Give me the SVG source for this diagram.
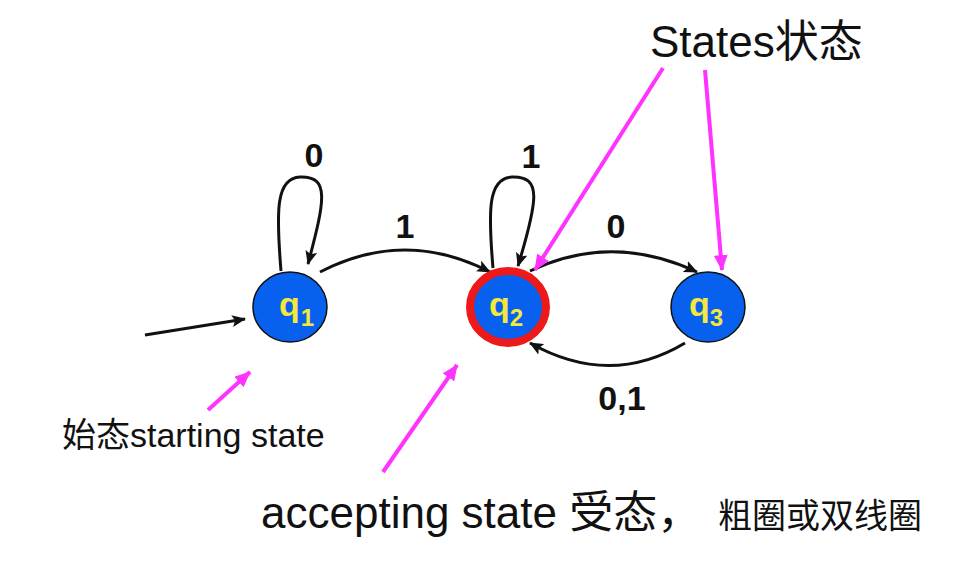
<svg xmlns="http://www.w3.org/2000/svg" width="966" height="565" viewBox="0 0 966 565">
<style>
.edge{fill:none;stroke:#111;stroke-width:3}
.pink{fill:none;stroke:#ff33ff;stroke-width:4}
.node{fill:#0860ee;stroke:#111;stroke-width:1.5}
.acc{fill:#0860ee;stroke:#ee1a1a;stroke-width:8}
.ql{font-family:"Liberation Sans",Arial,sans-serif;font-weight:bold;font-size:34px;fill:#f5e83c}
.sub{font-size:24px}
.lbl{font-family:"Liberation Sans",Arial,sans-serif;font-weight:bold;font-size:34px;fill:#111;text-anchor:middle}
.note{font-family:"Liberation Sans","Noto Sans CJK SC",sans-serif;fill:#111}
</style>
<defs>
<marker id="ah" markerWidth="14" markerHeight="12" refX="13" refY="6" orient="auto" markerUnits="userSpaceOnUse">
<path d="M0,0 L14,6 L0,12 L3,6 Z" fill="#111"/>
</marker>
<marker id="ph" markerWidth="16" markerHeight="14" refX="15" refY="7" orient="auto" markerUnits="userSpaceOnUse">
<path d="M0,0 L16,7 L0,14 Z" fill="#ff33ff"/>
</marker>
</defs>
<rect width="966" height="565" fill="#fff"/>
<g id="connectors">
<path class="edge" d="M145,335 L245,319" marker-end="url(#ah)"/>
<path class="edge" d="M281,271 C276,210 276,178 300,177 C330,176 325,200 308,264" marker-end="url(#ah)"/>
<path class="edge" d="M493,268 C488,210 488,178 512,177 C542,176 538,200 518,266" marker-end="url(#ah)"/>
<path class="edge" d="M320,272 Q405,228 490,272" marker-end="url(#ah)"/>
<path class="edge" d="M530,271 Q612,232 697,272" marker-end="url(#ah)"/>
<path class="edge" d="M685,343 Q610,388 530,343" marker-end="url(#ah)"/>
<text class="lbl" x="314" y="167">0</text>
<text class="lbl" x="531" y="168">1</text>
<text class="lbl" x="405" y="238">1</text>
<text class="lbl" x="616" y="238">0</text>
<text class="lbl" x="622" y="410">0,1</text>
</g>
<g id="q1">
<ellipse class="node" cx="290" cy="307" rx="37" ry="35"/>
<text class="ql" x="279" y="316">q<tspan class="sub" dx="1" dy="10">1</tspan></text>
</g>
<g id="q2">
<ellipse class="acc" cx="508" cy="307" rx="38" ry="36"/>
<text class="ql" x="489" y="316">q<tspan class="sub" dx="0" dy="10">2</tspan></text>
</g>
<g id="q3">
<ellipse class="node" cx="708" cy="307" rx="37" ry="35"/>
<text class="ql" x="689" y="316">q<tspan class="sub" dx="0" dy="10">3</tspan></text>
</g>
<g id="annotations">
<path class="pink" d="M663,68 L535,270" marker-end="url(#ph)"/>
<path class="pink" d="M705,70 L722,270" marker-end="url(#ph)"/>
<path class="pink" d="M208,410 L250,372" marker-end="url(#ph)"/>
<path class="pink" d="M383,472 L457,365" marker-end="url(#ph)"/>
<text class="note" x="650" y="57" font-size="44">States状态</text>
<text class="note" x="62" y="447" font-size="34">始态starting state</text>
<text class="note" x="261" y="528" font-size="44">accepting state 受态，</text>
<text class="note" x="718" y="528" font-size="34">粗圈或双线圈</text>
</g>
</svg>
